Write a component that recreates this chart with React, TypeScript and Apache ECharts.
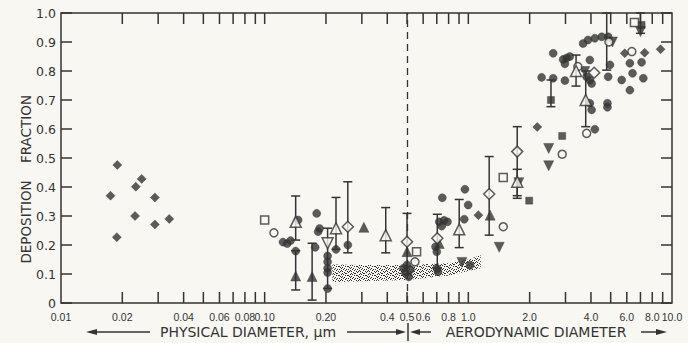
import React, { useEffect, useRef } from 'react';
import * as echarts from 'echarts';

const INK = '#333333';
const BG = '#f8f7f2';
const FONT = 'DejaVu Sans';

// x-axis (log) minor/major tick values and labels
const xTickValues = [0.02, 0.03, 0.04, 0.05, 0.06, 0.07, 0.08, 0.09, 0.1, 0.2, 0.3, 0.4, 0.5, 0.6, 0.7, 0.8, 0.9, 1, 2, 3, 4, 5, 6, 7, 8, 9];
const xLabelValues = [0.01, 0.02, 0.04, 0.06, 0.08, 0.1, 0.2, 0.4, 0.5, 0.6, 0.8, 1, 2, 4, 6, 8, 10];
const xLabelTexts = ['0.01', '0.02', '0.04', '0.06', '0.08', '0.10', '0.20', '0.4', '0.5', '0.6', '0.8', '1.0', '2.0', '4.0', '6.0', '8.0', '10.0'];

// stippled band
const bandX = [0.215, 0.3, 0.5, 0.8, 1.0, 1.15];
const bandLow = [0.072, 0.075, 0.079, 0.095, 0.11, 0.12];
const bandHigh = [0.133, 0.131, 0.131, 0.137, 0.15, 0.165];

// error bars [diameter, low, high]
const errorBars = [
  [0.142, 0.217, 0.369], [0.142, 0.045, 0.18], [0.171, 0.01, 0.206], [0.2037, 0.05, 0.258],
  [0.224, 0.185, 0.364], [0.256, 0.173, 0.418], [0.393, 0.173, 0.329], [0.5, 0.1, 0.309],
  [0.704, 0.12, 0.306], [0.902, 0.191, 0.357], [1.266, 0.234, 0.505], [1.738, 0.361, 0.608],
  [1.738, 0.37, 0.461], [2.545, 0.677, 0.769], [3.38, 0.748, 0.855], [3.77, 0.608, 0.8],
  [4.78, 0.803, 1.0], [7.0, 0.93, 1.0],
];

const filledDiamond = [
  [0.0189, 0.476], [0.0249, 0.428], [0.0233, 0.401], [0.0175, 0.37], [0.0289, 0.364],
  [0.0231, 0.3], [0.0289, 0.271], [0.034, 0.29], [0.0188, 0.227], [1.12, 0.303],
  [2.18, 0.607], [5.86, 0.861], [7.34, 0.863], [8.79, 0.875],
];
const openSquare = [[0.1, 0.286], [0.557, 0.177], [1.484, 0.433], [6.54, 0.967]];
const openCircle = [[0.111, 0.242], [0.547, 0.142], [1.484, 0.263], [2.89, 0.513], [3.81, 0.585], [4.9, 0.9], [6.35, 0.867], [3.45, 0.815]];
const filledCircle = [
  [0.123, 0.21], [0.129, 0.205], [0.134, 0.215], [0.146, 0.286], [0.142, 0.179],
  [0.18, 0.309], [0.186, 0.257], [0.183, 0.246], [0.177, 0.192],
  [0.2037, 0.162], [0.2037, 0.142], [0.2037, 0.12], [0.2037, 0.105], [0.2037, 0.05],
  [0.224, 0.185], [0.256, 0.2],
  [0.48, 0.12], [0.5, 0.131], [0.49, 0.105], [0.51, 0.09], [0.52, 0.115],
  [0.745, 0.363], [0.72, 0.28], [0.76, 0.285], [0.79, 0.28], [0.74, 0.265], [0.69, 0.194], [0.7, 0.177], [0.7, 0.12], [0.71, 0.108],
  [0.962, 0.392], [0.998, 0.338], [0.955, 0.289], [1.02, 0.13],
  [2.29, 0.778], [2.61, 0.775], [2.61, 0.861], [2.98, 0.767], [2.92, 0.84], [3.04, 0.845], [3.15, 0.85], [2.98, 0.825],
  [3.95, 0.838], [3.81, 0.78], [3.95, 0.769], [4.03, 0.757],
  [3.66, 0.895], [3.87, 0.907], [4.18, 0.913], [4.52, 0.918], [4.86, 0.918],
  [4.03, 0.666], [4.18, 0.599], [3.95, 0.689],
  [4.96, 0.821], [4.86, 0.78], [5.66, 0.769], [6.21, 0.827], [6.4, 0.792], [6.21, 0.734], [7.09, 0.83], [7.23, 0.775], [4.82, 0.689], [4.82, 0.675],
];
const openTriUp = [[0.142, 0.28], [0.224, 0.258], [0.393, 0.234], [0.902, 0.254], [1.738, 0.418], [3.38, 0.8], [3.77, 0.7]];
const filledTriUp = [[0.142, 0.093], [0.171, 0.091], [0.307, 0.261], [0.5, 0.177], [0.72, 0.205], [1.28, 0.303]];
const openDiamond = [[0.256, 0.263], [0.5, 0.211], [0.704, 0.223], [1.266, 0.376], [1.738, 0.522], [4.15, 0.794]];
const openTriDown = [[0.2037, 0.206]];
const filledTriDown = [[0.93, 0.14], [1.418, 0.192], [1.77, 0.415], [2.48, 0.533], [2.48, 0.473], [3.73, 0.798], [5.1, 0.9], [7.0, 0.936]];
const filledSquare = [[1.99, 0.353], [2.89, 0.576], [2.545, 0.7], [7.09, 0.959]];

function makeStipple() {
  const n = 9;
  const c = document.createElement('canvas');
  c.width = n; c.height = n;
  const ctx = c.getContext('2d')!;
  ctx.fillStyle = BG; ctx.fillRect(0, 0, n, n);
  ctx.fillStyle = '#2a2a2a';
  const dots = [
    [0, 1], [3, 0], [6, 2], [1, 4], [5, 5], [2, 7], [7, 6], [4, 3], [8, 0], [0, 6],
    [3, 5], [8, 4], [6, 8], [2, 2], [4, 8], [7, 1], [1, 8], [5, 1], [8, 7], [3, 3], [6, 5], [0, 3],
  ];
  dots.forEach(([x, y]) => ctx.fillRect(x, y, 1, 1));
  return c.toDataURL();
}

export default function App() {
  const ref = useRef<HTMLDivElement>(null);
  useEffect(() => {
    document.body.style.margin = '0';
    document.body.style.background = BG;
    const chart = echarts.init(ref.current!, null, { renderer: 'svg' });
    const stipple = makeStipple();

    const scatter = (data: number[][], symbol: string, size: number, filled: boolean, rotate = 0, z = 5) => ({
      type: 'scatter', data, symbol, symbolSize: size, symbolRotate: rotate, z,
      itemStyle: filled ? { color: INK, borderColor: INK, borderWidth: 0.5 } : { color: BG, borderColor: INK, borderWidth: 1.5 },
    });

    const yAxisBase = {
      type: 'value', min: 0, max: 1, interval: 0.1,
      axisLine: { show: false },
      axisTick: { inside: true, length: 11, lineStyle: { color: INK, width: 1.5 } },
      splitLine: { show: false },
    };

    chart.setOption({
      animation: false,
      backgroundColor: BG,
      grid: { left: 61, right: 16, top: 13, bottom: 40, show: true, borderColor: INK, borderWidth: 1.5, backgroundColor: 'transparent' },
      xAxis: {
        type: 'log', logBase: 10, min: 0.01, max: 10,
        axisLine: { show: false }, axisTick: { show: false }, axisLabel: { show: false }, splitLine: { show: false },
      },
      yAxis: [
        {
          ...yAxisBase, position: 'left',
          axisLabel: {
            color: INK, fontSize: 12.5, fontFamily: FONT, margin: 5,
            formatter: (v: number) => (v === 0 ? '0' : v.toFixed(1)),
          },
        },
        { ...yAxisBase, position: 'right', axisLabel: { show: false } },
      ],
      series: [
        {
          type: 'custom', z: 1, silent: true,
          data: bandX.map((x, i) => [x, bandLow[i], bandHigh[i]]),
          encode: { x: 0, y: [1, 2] },
          renderItem: (params: any, api: any) => {
            if (params.dataIndex !== 0) return null;
            const top = bandX.map((x, i) => api.coord([x, bandHigh[i]]));
            const bot = bandX.map((x, i) => api.coord([x, bandLow[i]])).reverse();
            return {
              type: 'polygon',
              shape: { points: top.concat(bot) },
              style: { fill: { image: stipple, repeat: 'repeat', imageWidth: 9, imageHeight: 9 }, stroke: 'none' },
            };
          },
        },
        {
          type: 'custom', z: 2, silent: true,
          data: xTickValues.map((v) => [v, 0]),
          encode: { x: 0, y: 1 },
          renderItem: (params: any, api: any) => {
            const v = api.value(0);
            const b = api.coord([v, 0]);
            const t = api.coord([v, 1]);
            const st = { stroke: INK, lineWidth: 1.5 };
            return {
              type: 'group', children: [
                { type: 'line', shape: { x1: b[0], y1: b[1], x2: b[0], y2: b[1] - 11 }, style: st },
                { type: 'line', shape: { x1: t[0], y1: t[1], x2: t[0], y2: t[1] + 11 }, style: st },
              ],
            };
          },
        },
        {
          type: 'custom', z: 2, silent: true,
          data: xLabelValues.map((v) => [v, 0]),
          encode: { x: 0, y: 1 },
          renderItem: (params: any, api: any) => {
            const b = api.coord([api.value(0), 0]);
            return {
              type: 'text', x: b[0], y: b[1] + 14,
              style: { text: xLabelTexts[params.dataIndex], fontSize: 10.5, fontFamily: 'Liberation Sans', fill: INK, align: 'center', verticalAlign: 'middle' },
            };
          },
        },
        {
          type: 'custom', z: 3, silent: true,
          data: errorBars,
          encode: { x: 0, y: [1, 2] },
          renderItem: (params: any, api: any) => {
            const x = api.value(0);
            const p1 = api.coord([x, api.value(1)]);
            const p2 = api.coord([x, api.value(2)]);
            const w = 4.5;
            const st = { stroke: INK, lineWidth: 1.5 };
            return {
              type: 'group', children: [
                { type: 'line', shape: { x1: p1[0], y1: p1[1], x2: p2[0], y2: p2[1] }, style: st },
                { type: 'line', shape: { x1: p1[0] - w, y1: p1[1], x2: p1[0] + w, y2: p1[1] }, style: st },
                { type: 'line', shape: { x1: p2[0] - w, y1: p2[1], x2: p2[0] + w, y2: p2[1] }, style: st },
              ],
            };
          },
          markLine: {
            silent: true, symbol: ['none', 'none'], label: { show: false },
            lineStyle: { type: [7, 5], color: INK, width: 1.3 },
            data: [{ xAxis: 0.5 }],
          },
        },
        scatter(filledDiamond, 'diamond', 9, true),
        scatter(filledCircle, 'circle', 8, true),
        scatter(filledTriUp, 'triangle', 10, true),
        scatter(filledTriDown, 'triangle', 10, true, 180),
        scatter(filledSquare, 'rect', 7, true),
        scatter(openSquare, 'rect', 8, false, 0, 6),
        scatter(openCircle, 'circle', 8, false, 0, 6),
        scatter(openTriUp, 'triangle', 11, false, 0, 6),
        scatter(openTriDown, 'triangle', 11, false, 180, 6),
        scatter(openDiamond, 'diamond', 11, false, 0, 6),
      ],
      graphic: [
        { type: 'text', x: 26, y: 222, rotation: Math.PI / 2, style: { text: 'DEPOSITION', fontSize: 13.5, fontFamily: FONT, fill: INK, align: 'center', verticalAlign: 'middle' } },
        { type: 'text', x: 26, y: 129, rotation: Math.PI / 2, style: { text: 'FRACTION', fontSize: 13.5, fontFamily: FONT, fill: INK, align: 'center', verticalAlign: 'middle' } },
        { type: 'text', x: 248, y: 332, style: { text: 'PHYSICAL DIAMETER, \u03bcm', fontSize: 14, fontFamily: FONT, fill: INK, align: 'center', verticalAlign: 'middle' } },
        { type: 'text', x: 536, y: 332, style: { text: 'AERODYNAMIC DIAMETER', fontSize: 14, fontFamily: FONT, fill: INK, align: 'center', verticalAlign: 'middle' } },
        { type: 'line', shape: { x1: 92, y1: 332, x2: 150, y2: 332 }, style: { stroke: INK, lineWidth: 1.5 } },
        { type: 'polygon', shape: { points: [[86, 332], [97, 329], [97, 335]] }, style: { fill: INK } },
        { type: 'line', shape: { x1: 347, y1: 332, x2: 400, y2: 332 }, style: { stroke: INK, lineWidth: 1.5 } },
        { type: 'polygon', shape: { points: [[406, 332], [396, 329], [396, 335]] }, style: { fill: INK } },
        { type: 'line', shape: { x1: 408, y1: 323, x2: 408, y2: 341 }, style: { stroke: INK, lineWidth: 1.5 } },
        { type: 'polygon', shape: { points: [[410, 332], [420, 329], [420, 335]] }, style: { fill: INK } },
        { type: 'line', shape: { x1: 419, y1: 332, x2: 431, y2: 332 }, style: { stroke: INK, lineWidth: 1.5 } },
        { type: 'line', shape: { x1: 641, y1: 332, x2: 660, y2: 332 }, style: { stroke: INK, lineWidth: 1.5 } },
        { type: 'polygon', shape: { points: [[667, 332], [656, 329], [656, 335]] }, style: { fill: INK } },
      ],
    });
    return () => chart.dispose();
  }, []);
  return <div ref={ref} style={{ width: 688, height: 343 }} />;
}
